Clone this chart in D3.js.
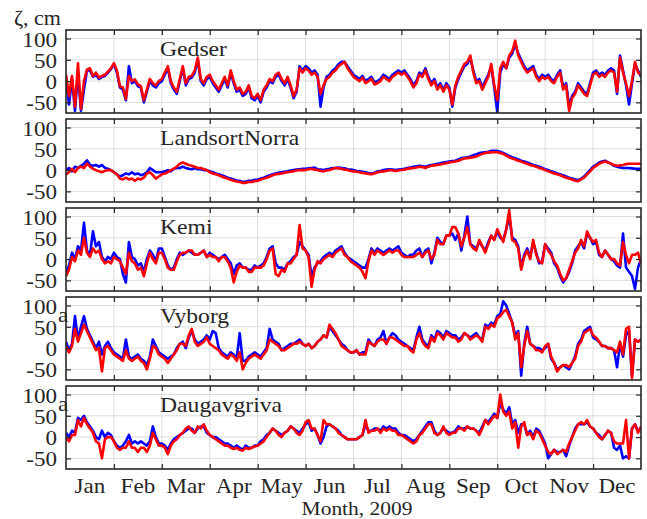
<!DOCTYPE html>
<html>
<head>
<meta charset="utf-8">
<script src="https://cdn.jsdelivr.net/npm/d3@7/dist/d3.min.js"></script>
<style>
  html, body { margin: 0; padding: 0; background: #fff; }
  svg, svg text { font-family: "Liberation Serif", "Times New Roman", serif; }
</style>
</head>
<body>
<div id="chart"></div>
<script>
// Data - month labels, y ticks, station names
const months = ["Jan", "Feb", "Mar", "Apr", "May", "Jun", "Jul", "Aug", "Sep", "Oct", "Nov", "Dec"];
const yTicks = [-50, 0, 50, 100];
const stations = ["Gedser", "LandsortNorra", "Kemi", "Vyborg", "Daugavgriva"];
const samplesPerMonth = 16;

// Sea level, cm (16 samples per month, 1 Jan 2009 .. 1 Jan 2010), one row per month
const gedserBlue = [
    10,-55,5,-70,20,-70,-20,25,25,10,15,5,10,12,20,28,
    40,20,-15,-20,-45,35,-5,0,-12,-15,-50,-25,0,-10,-15,-5,
    0,15,30,-5,-20,-30,0,30,-10,5,8,20,50,0,-10,5,
    10,-5,-15,-25,-10,5,-15,20,-5,-25,-20,-35,-30,-15,-40,-45,
    -35,-50,-25,-15,0,-5,10,15,0,-10,5,-15,-40,-25,35,25,
    35,30,20,25,15,-60,-15,10,15,25,30,40,45,45,35,25,
    15,10,5,12,0,5,10,-3,0,5,15,10,5,15,20,25,
    20,25,15,5,-10,0,20,15,30,10,-5,5,-15,-5,-20,-5,
    -15,-60,-15,5,20,35,40,55,25,0,5,-15,0,15,35,-15,
    -72,20,40,30,55,65,85,65,50,35,25,30,35,15,5,15,
    10,15,5,0,15,25,-15,-5,-60,-35,-25,-5,-15,-25,-30,-5,
    20,25,15,20,15,25,30,25,-30,60,25,-10,-55,-5,40,25,10];
const gedserRed = [
    15,-35,12,-60,42,-65,0,27,30,12,20,8,12,15,22,30,
    42,25,-12,-15,-42,12,0,4,-8,-12,-45,-20,5,-5,-10,0,
    5,20,35,0,-15,-25,5,35,-5,10,12,25,55,5,-5,10,
    15,0,-10,-20,-5,10,-10,25,0,-20,-15,-30,-25,-10,-35,-40,
    -30,-45,-20,-10,5,0,15,20,5,-5,10,-10,-35,-20,30,20,
    30,25,15,20,10,-30,-10,5,10,20,25,35,40,45,30,20,
    10,5,0,8,-5,0,5,-8,-5,0,10,5,0,10,15,20,
    15,20,10,0,-15,-5,15,10,25,5,-10,0,-20,-10,-25,-10,
    -20,-55,-10,10,25,40,45,60,20,-5,0,-20,-5,10,40,-10,
    -45,30,45,30,60,70,95,60,45,30,20,25,30,10,0,10,
    5,10,0,-5,10,20,-20,-10,-70,-40,-30,-10,-20,-30,-35,-10,
    15,20,10,15,10,20,25,20,-25,55,20,-5,-35,0,45,20,15];

const landsortBlue = [
    0,5,-3,8,5,10,15,23,12,10,12,8,12,5,3,0,
    -5,-10,-15,-12,-8,-10,-5,-10,-8,-12,-10,-5,5,0,-5,-5,
    -5,-3,0,-3,3,5,5,8,5,3,2,5,2,2,0,0,
    -3,-5,-8,-10,-12,-15,-18,-20,-22,-25,-25,-28,-27,-25,-25,-23,
    -22,-20,-18,-15,-12,-10,-8,-6,-5,-4,-3,-1,0,1,2,3,
    3,4,5,6,2,1,0,2,3,5,5,6,5,4,2,1,
    0,-2,-3,-4,-5,-7,-8,-6,-3,-2,0,1,2,1,0,1,
    2,3,5,6,8,9,10,9,8,10,12,13,15,16,18,19,
    20,21,22,25,28,29,30,32,35,37,40,41,42,43,45,45,
    45,43,40,37,33,30,28,25,22,20,18,15,12,10,8,5,
    2,0,-3,-5,-8,-10,-12,-15,-18,-20,-22,-24,-20,-15,-8,0,
    8,12,18,20,22,18,15,10,8,6,5,5,5,4,3,3,3];
const landsortRed = [
    -10,-5,3,-5,5,8,5,15,8,3,0,-3,-5,-2,0,0,
    -5,-10,-20,-22,-18,-22,-20,-25,-20,-22,-18,-8,-5,-12,-20,-15,
    -10,-8,-5,0,3,8,15,18,15,12,10,8,5,5,2,0,
    -5,-8,-10,-12,-15,-18,-20,-23,-25,-27,-28,-30,-30,-28,-28,-26,
    -25,-22,-20,-18,-15,-12,-10,-9,-8,-6,-5,-4,-3,-1,0,0,
    0,2,3,1,0,-2,-3,-1,0,3,5,4,3,1,0,-2,
    -3,-4,-5,-7,-8,-9,-10,-8,-5,-4,-3,-2,0,-1,-2,-1,
    0,1,3,4,5,6,8,7,5,8,10,11,12,13,15,16,
    18,19,20,22,25,27,28,29,30,32,35,38,40,41,42,42,
    42,40,38,34,30,27,25,22,20,17,15,12,10,8,5,3,
    0,-3,-5,-8,-10,-12,-15,-18,-20,-22,-25,-26,-22,-18,-10,-3,
    5,10,15,18,20,18,15,12,10,11,12,14,15,15,15,15,15];

const kemiBlue = [
    -30,-15,15,0,30,20,85,20,10,65,30,40,5,-5,5,0,
    15,5,0,-35,-55,40,5,0,-15,-10,-30,0,20,10,-5,25,
    25,5,-15,-25,-20,0,15,10,15,20,15,10,10,15,20,5,
    15,10,5,0,5,10,0,-10,-35,-15,-10,-20,-20,-25,-25,-15,
    -20,-15,-10,5,25,30,-10,-20,-20,-25,-10,-5,5,10,40,30,
    20,10,-40,-20,-10,-5,5,10,15,10,20,25,30,15,5,0,
    -5,-10,-15,-20,-20,0,25,15,25,20,15,20,25,20,25,30,
    15,10,5,10,10,20,25,5,20,25,-10,15,50,40,35,55,
    55,60,45,60,20,55,100,35,30,25,40,30,20,40,55,45,
    65,50,45,70,100,50,45,30,-20,10,25,5,40,15,-10,-5,
    35,25,15,-10,-20,-40,-55,-45,-30,-10,20,30,40,25,60,50,
    35,40,10,5,20,10,0,-5,-15,-20,60,-20,-30,-40,-70,-20,0];
const kemiRed = [
    -40,-25,5,-5,20,10,50,15,5,25,15,20,0,-10,-5,-10,
    5,0,-5,-20,-35,15,-5,-10,-25,-20,-40,-10,15,0,-10,15,
    15,0,-20,-25,-25,-5,10,15,15,20,20,10,10,15,20,5,
    10,5,5,-5,5,5,-5,-20,-55,-30,-15,-20,-20,-30,-30,-20,
    -20,-20,-15,0,20,25,-35,-40,-25,-30,-10,-10,0,10,80,25,
    20,5,-65,-25,-5,-10,0,5,10,5,15,20,25,10,5,-5,
    -10,-15,-20,-30,-45,-5,20,10,20,15,10,15,20,15,20,20,
    10,5,5,5,5,10,15,5,15,20,0,10,45,35,35,55,
    55,75,75,60,30,50,75,35,25,20,45,30,15,35,55,45,
    70,55,40,70,115,45,40,25,-25,5,20,0,45,10,-5,-10,
    35,20,10,-5,-15,-35,-50,-45,-25,-5,15,25,45,30,65,50,
    40,45,15,5,20,10,0,0,-10,-15,40,10,-10,10,10,15,-10];

const vyborgBlue = [
    15,-5,10,75,20,50,75,45,30,15,0,15,-15,5,15,0,
    -10,-15,-20,-25,20,-20,-25,-20,-15,-25,-30,-40,-20,20,5,-10,
    -15,-20,-25,-20,-15,0,10,15,0,25,40,20,10,15,20,30,
    20,40,35,0,-10,-15,-20,-10,-15,-25,35,-30,-30,-20,-15,-10,
    -15,-20,-10,0,45,20,15,10,-5,0,5,10,10,15,20,10,
    5,10,0,5,15,20,30,25,50,40,30,20,10,5,-5,-10,
    -10,-5,-15,-10,-10,20,10,5,20,25,40,10,25,35,30,20,
    15,10,5,0,-5,25,50,20,10,5,30,20,40,35,25,40,
    35,30,30,20,25,35,30,25,30,35,25,20,55,50,60,55,
    75,80,110,100,80,60,30,40,-65,10,50,10,5,0,0,-5,
    0,10,-25,-35,-50,-45,-40,-45,-50,-35,-20,10,20,40,45,50,
    25,20,15,5,5,0,0,-5,-45,10,-20,30,40,-65,20,15,20];
const vyborgRed = [
    5,-10,5,45,15,35,55,40,25,10,-5,0,-55,0,5,-5,
    -15,-20,-25,-30,-5,-25,-30,-25,-20,-30,-35,-50,-25,5,0,-15,
    -20,-25,-35,-25,-15,-5,10,10,5,30,45,15,5,10,15,25,
    10,5,0,-5,-15,-20,-25,-15,-20,-30,-10,-50,-35,-25,-20,-15,
    -20,-25,-15,-5,20,15,10,5,-5,-5,0,5,10,10,15,10,
    5,10,0,5,15,20,30,25,55,45,35,20,5,0,-5,-10,
    -10,-5,-15,-15,-15,15,10,5,15,20,20,10,25,25,20,15,
    10,5,5,-5,-10,20,35,15,5,0,25,15,35,30,20,35,
    30,25,25,15,20,35,30,20,25,30,25,15,50,45,55,50,
    70,75,85,90,75,60,20,35,-45,5,40,10,5,-5,-5,-10,
    5,10,-20,-35,-55,-45,-40,-40,-45,-35,-25,5,15,35,40,45,
    30,25,15,5,5,0,0,-5,-10,15,-15,45,50,-70,20,15,20];

const daugavBlue = [
    10,0,15,10,45,40,50,35,25,15,0,-5,15,0,10,5,
    -10,-20,-25,-20,-10,5,-15,-10,-15,-10,-15,-20,-10,25,0,-15,
    -15,-20,-30,-15,-5,0,5,10,15,20,20,10,20,25,25,10,
    5,0,0,-5,-10,-15,-15,-20,-25,-20,-25,-30,-20,-25,-25,-20,
    -20,-10,-5,5,10,20,15,10,5,10,15,25,20,15,10,20,
    30,35,15,20,5,-15,0,25,30,25,20,15,5,0,-5,-5,
    -5,-5,0,5,30,15,15,20,20,15,25,20,25,20,20,10,
    5,5,0,-5,-10,-5,5,15,25,35,35,15,5,10,20,15,
    10,10,15,25,20,20,25,20,20,15,10,25,40,35,45,55,
    45,80,65,55,70,30,40,10,30,30,5,15,0,20,15,0,
    -15,-50,-40,-30,-35,-35,-30,-45,-20,0,20,30,30,30,35,25,
    20,10,5,-5,5,15,10,-25,-30,-20,-50,-45,-50,20,30,15,20];
const daugavRed = [
    0,-10,5,5,40,25,45,30,20,10,-10,-15,-50,-5,0,0,
    -10,-25,-30,-25,-25,-10,-25,-25,-35,-25,-25,-35,-20,10,-5,-20,
    -20,-25,-40,-20,-10,-5,5,10,20,25,15,10,25,20,30,15,
    5,0,-5,-10,-15,-20,-20,-25,-28,-25,-30,-32,-25,-28,-25,-22,
    -20,-15,-10,0,10,20,15,5,0,10,15,25,20,10,5,15,
    35,40,20,20,5,-10,40,30,30,25,20,10,5,0,-5,-5,
    -5,-5,0,5,40,10,15,15,20,10,20,15,20,15,15,5,
    5,0,-5,-10,-15,-10,5,10,20,30,30,10,5,10,25,10,
    5,10,10,20,20,15,25,20,20,15,5,20,40,30,40,50,
    45,100,60,50,60,20,35,-25,25,35,5,10,-5,15,10,-5,
    -20,-35,-40,-30,-40,-35,-30,-35,-15,0,15,30,35,30,40,25,
    20,10,0,-5,5,15,10,-10,-15,-15,-15,40,-50,20,30,10,25];

const blueSeries = [gedserBlue, landsortBlue, kemiBlue, vyborgBlue, daugavBlue];
const redSeries = [gedserRed, landsortRed, kemiRed, vyborgRed, daugavRed];

// Layout
const svgWidth = 647, svgHeight = 519;
const margin = { left: 66, top: 30 };
const plotWidth = 575, panelHeight = 83, panelStep = 89;
const stretch = 1.1;   // the figure text is slightly wide
const ink = "#262626";

const svg = d3.select("#chart")
    .append("svg")
    .attr("width", svgWidth)
    .attr("height", svgHeight);

// scales: x in months (0 = 1 Jan), y in cm
const x = d3.scaleLinear()
    .domain([0, months.length])
    .range([margin.left, margin.left + plotWidth]);
const y = d3.scaleLinear()
    .domain([-75, 120])
    .range([panelHeight, 0]);

const monthEdges = months.slice(1).map(function(m, i) { return i + 1; });

const line = d3.line()
    .x(function(d, i) { return x(i / samplesPerMonth); })
    .y(function(d) { return y(d); });

// Function - serif text, slightly widened
function label(g, tx, ty, str, size, anchor) {
    return g.append("text")
        .attr("transform", `translate(${tx},${ty}) scale(${stretch},1)`)
        .attr("text-anchor", anchor || "start")
        .style("font-family", "'Liberation Serif', serif")
        .style("font-size", size + "px")
        .attr("fill", ink)
        .text(str);
}

// Function - draw one station panel
function drawPanel(k) {
    const top = margin.top + k * panelStep;
    const g = svg.append("g").attr("transform", `translate(0,${top})`);

    svg.append("clipPath").attr("id", "clip" + k)
        .append("rect")
        .attr("x", x(0)).attr("y", 0)
        .attr("width", plotWidth).attr("height", panelHeight);

    // grid
    g.selectAll(".vgrid").data(monthEdges).enter().append("line")
        .attr("x1", function(d) { return x(d); }).attr("x2", function(d) { return x(d); })
        .attr("y1", 0).attr("y2", panelHeight)
        .attr("stroke", "#dcdcdc").attr("stroke-width", 1);
    g.selectAll(".hgrid").data(yTicks).enter().append("line")
        .attr("x1", x(0)).attr("x2", x(12))
        .attr("y1", function(d) { return y(d); }).attr("y2", function(d) { return y(d); })
        .attr("stroke", "#dcdcdc").attr("stroke-width", 1);

    // station name + stray "a" glyph seen in the lower panels
    label(g, 160, 26, stations[k], 21.5);
    if (k >= 3) label(g, 58, 25, "a", 21);

    // series
    const lines = g.append("g").attr("clip-path", `url(#clip${k})`);
    lines.append("path").datum(blueSeries[k])
        .attr("d", line).attr("fill", "none")
        .attr("stroke", "#0000ff").attr("stroke-width", 2.6).attr("stroke-linejoin", "round");
    lines.append("path").datum(redSeries[k])
        .attr("d", line).attr("fill", "none")
        .attr("stroke", "#ff0000").attr("stroke-width", 2.6).attr("stroke-linejoin", "round");

    // ticks pointing inward on all four sides
    g.append("g").attr("transform", `translate(${x(0)},0)`)
        .call(d3.axisLeft(y).tickValues(yTicks).tickSize(-5).tickFormat(""));
    g.append("g").attr("transform", `translate(${x(12)},0)`)
        .call(d3.axisRight(y).tickValues(yTicks).tickSize(-5).tickFormat(""));
    g.append("g")
        .call(d3.axisTop(x).tickValues(monthEdges).tickSize(-5).tickFormat(""));
    g.append("g").attr("transform", `translate(0,${panelHeight})`)
        .call(d3.axisBottom(x).tickValues(monthEdges).tickSize(-5).tickFormat(""));
    g.selectAll(".domain").remove();
    g.selectAll(".tick line").attr("stroke", ink).attr("stroke-width", 1.2);

    // y tick labels
    yTicks.forEach(function(v) {
        label(g, 57, y(v) + 8, String(v), 21, "end");
    });

    // box
    g.append("rect")
        .attr("x", x(0)).attr("y", 0)
        .attr("width", plotWidth).attr("height", panelHeight)
        .attr("fill", "none").attr("stroke", ink).attr("stroke-width", 1.6);
}

stations.forEach(function(s, k) { drawPanel(k); });

// month labels under last panel, centred in each month
months.forEach(function(m, i) {
    label(svg, x(i + 0.5), 493, m, 21, "middle");
});

label(svg, 357, 515, "Month, 2009", 19.5, "middle");
label(svg, 14, 25, "ζ, cm", 20);
</script>
</body>
</html>
